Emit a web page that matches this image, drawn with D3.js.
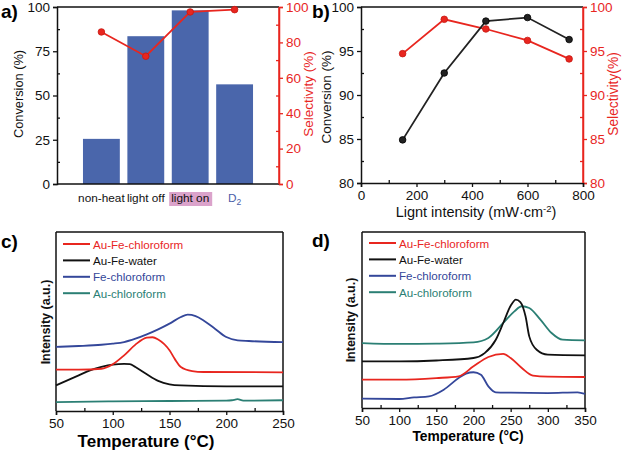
<!DOCTYPE html>
<html><head><meta charset="utf-8">
<script src="https://cdn.jsdelivr.net/npm/d3@7"></script>
<style>
body{margin:0;background:#fff;}
svg{font-family:"Liberation Sans",Arial,sans-serif;}
</style></head>
<body><svg id="c" width="623" height="450"></svg>
<script>
// ---------- DATA ----------
// panel a
const aCategories = ["non-heat","light off","light on","D2"];
const aCatPos = [1,2,3,4];
const aConversion = [25.5, 83.5, 98.1, 56.3];
const aSelectivity = [85.9, 72.2, 97.2, 98.5];
const aLeftTicks = [0,25,50,75,100];
const aRightTicks = [0,20,40,60,80,100];
// panel b
const bIntensity = [150,300,450,600,750];
const bConversion = [84.9, 92.5, 98.4, 98.8, 96.3];
const bSelectivity = [94.7, 98.6, 97.5, 96.2, 94.1];
const bXTicks = [0,200,400,600,800];
const bYTicks = [80,85,90,95,100];
// panel c (arbitrary intensity units)
const cTempRed   = [50,70,90,100,110,120,130,135,140,150,155,160,170,180,250];
const cAuFeChl   = [23.1,23.1,23.6,26.1,31.1,37.1,41.0,41.2,39.9,33.9,28.7,24.6,22.3,21.8,21.6];
const cTempBlack = [50,60,70,80,90,100,110,115,120,130,140,150,160,200,250];
const cAuFeWater = [14.3,17.1,19.9,22.7,24.6,25.9,26.3,26.2,24.6,20.5,16.8,14.9,14.3,13.8,13.8];
const cTempBlue  = [50,70,90,100,110,120,130,140,150,160,166,173,180,190,200,210,220,250];
const cFeChl     = [35.8,36.3,37.0,37.6,38.5,40.4,42.8,45.6,48.8,52.5,53.8,53.0,50.6,46.0,41.3,39.5,39.1,38.5];
const cTempTeal  = [50,100,150,200,205,210,215,250];
const cAuChl     = [5.0,5.4,5.6,5.8,6.0,6.6,5.8,6.0];
const cXTicks = [50,100,150,200,250];
// panel d
const dTempTeal  = [50,100,150,200,220,240,255,265,275,290,305,320,350];
const dAuChl     = [36.9,36.4,36.6,37.3,39.8,48.3,54.9,57.8,56.8,50.2,42.6,38.8,38.4];
const dTempBlack = [50,100,150,200,215,230,240,250,257,263,270,275,285,300,350];
const dAuFeWater = [26.5,26.5,27.0,28.4,31.2,38.8,48.3,58.1,61.6,60.2,52.1,40.7,33.1,30.3,29.9];
const dTempRed   = [50,100,150,180,200,220,240,250,265,280,300,350];
const dAuFeChl   = [16.1,16.1,17.0,18.0,23.7,29.0,30.7,28.4,22.7,18.4,17.8,17.6];
const dTempBlue  = [50,100,120,140,160,180,190,200,210,220,230,250,300,340,350];
const dFeChl     = [5.3,5.1,6.0,6.6,10.4,17.0,19.5,20.3,18.9,12.3,8.9,8.7,8.5,8.9,8.0];
const dXTicks = [50,100,150,200,250,300,350];
const legendNames = ["Au-Fe-chloroform","Au-Fe-water","Fe-chloroform","Au-chloroform"];

// ---------- STYLE ----------
const RED="#e8261f", BLACK="#111", BLUE="#34479a", TEAL="#2b7f74", BAR="#4a66ab";
const svg = d3.select("#c");
const FS=13.5;

function minorBetween(ticks){const m=[];for(let i=0;i<ticks.length-1;i++)m.push((ticks[i]+ticks[i+1])/2);return m;}

function styleAxis(g,color){
  g.selectAll("path").attr("stroke",color).attr("stroke-width",1.5);
  g.selectAll("line").attr("stroke",color).attr("stroke-width",1.3);
  g.selectAll("text").attr("fill",color).style("font-size",FS+"px").style("font-family","'Liberation Sans',Arial,sans-serif");
}
function axisPair(axisFn, scale, ticks, transform, color, labels){
  const g=svg.append("g").attr("transform",transform);
  g.call(axisFn(scale).tickValues(ticks).tickSizeOuter(0).tickSize(4).tickPadding(3)
        .tickFormat(labels===false?"":d3.format("d")));
  styleAxis(g,color);
  const g2=svg.append("g").attr("transform",transform);
  g2.call(axisFn(scale).tickValues(minorBetween(ticks)).tickSizeOuter(0).tickSize(-3).tickFormat(""));
  styleAxis(g2,color);
  g2.select("path").remove();
  return g;
}
function hline(x1,x2,y,c){svg.append("line").attr("x1",x1).attr("x2",x2).attr("y1",y).attr("y2",y).attr("stroke",c).attr("stroke-width",1.5);}
function vline(x,y1,y2,c){svg.append("line").attr("x1",x).attr("x2",x).attr("y1",y1).attr("y2",y2).attr("stroke",c).attr("stroke-width",1.5);}
function vlabel(txt,x,y,color,size,weight){
  return svg.append("text").attr("transform",`translate(${x},${y}) rotate(-90)`).attr("text-anchor","middle")
    .attr("fill",color).style("font-size",size+"px").style("font-weight",weight||"normal").text(txt);
}
function plabel(txt,x,y){svg.append("text").attr("x",x).attr("y",y).style("font-size","19px").style("font-weight","bold").text(txt);}

// ---------- PANEL A ----------
{
  const x=d3.scaleLinear().domain([0,5]).range([57,279]);
  const y=d3.scaleLinear().domain([0,100]).range([184,7]);
  const bw=x(0.83)-x(0);
  svg.append("g").selectAll("rect").data(aConversion).join("rect")
    .attr("x",(d,i)=>x(aCatPos[i])-bw/2).attr("width",bw)
    .attr("y",d=>y(d)).attr("height",d=>y(0)-y(d)).attr("fill",BAR);
  axisPair(d3.axisLeft,y,aLeftTicks,`translate(57,0)`,BLACK);
  axisPair(d3.axisRight,y,aRightTicks,`translate(279,0)`,RED);
  hline(57,279,184,BLACK); hline(57,279,7,BLACK); vline(279,7,184,RED);
  const line=d3.line().x((d,i)=>x(aCatPos[i])).y(d=>y(d));
  svg.append("path").datum(aSelectivity).attr("d",line).attr("fill","none").attr("stroke",RED).attr("stroke-width",1.8);
  svg.append("g").selectAll("circle").data(aSelectivity).join("circle")
    .attr("cx",(d,i)=>x(aCatPos[i])).attr("cy",d=>y(d)).attr("r",3.3).attr("fill",RED).attr("stroke","#c81812").attr("stroke-width",0.8);
  const lab=svg.append("g");
  lab.append("rect").attr("x",x(3)-21).attr("y",192).attr("width",43).attr("height",14).attr("fill","#dba3cb");
  aCategories.forEach((c,i)=>{
    const t=lab.append("text").attr("x",x(aCatPos[i])).attr("y",202).attr("text-anchor","middle")
      .style("font-size","11.8px").attr("fill",i===3?"#4a5ea8":"#111");
    if(c==="D2"){t.text("D");t.append("tspan").attr("dy",3).style("font-size","8.5px").text("2");}
    else t.text(c);
  });
  vlabel("Conversion (%)",23,94,BLACK,12.8);
  vlabel("Selectivity (%)",313,94,RED,13.5);
  plabel("a)",1,18);
}
// ---------- PANEL B ----------
{
  const x=d3.scaleLinear().domain([0,800]).range([361,583]);
  const y=d3.scaleLinear().domain([80,100]).range([183,7]);
  axisPair(d3.axisLeft,y,bYTicks,`translate(361,0)`,BLACK);
  axisPair(d3.axisRight,y,bYTicks,`translate(583,0)`,RED);
  axisPair(d3.axisBottom,x,bXTicks,`translate(0,183)`,BLACK);
  hline(361,583,7,BLACK); vline(583,7,183,RED);
  const mk=(vals,col,stroke)=>{
    const line=d3.line().x((d,i)=>x(bIntensity[i])).y(d=>y(d));
    svg.append("path").datum(vals).attr("d",line).attr("fill","none").attr("stroke",col).attr("stroke-width",1.8);
    svg.append("g").selectAll("circle").data(vals).join("circle")
      .attr("cx",(d,i)=>x(bIntensity[i])).attr("cy",d=>y(d)).attr("r",3.3).attr("fill",col).attr("stroke",stroke).attr("stroke-width",0.8);
  };
  mk(bSelectivity,RED,"#c81812");
  mk(bConversion,"#222","#000");
  vlabel("Conversion (%)",331,97,BLACK,13.5);
  vlabel("Selectivity(%)",618,94,RED,13.8);
  const t=svg.append("text").attr("x",476).attr("y",217).attr("text-anchor","middle").style("font-size","14.5px").attr("fill","#111");
  t.append("tspan").text("Lignt intensity (mW·cm");
  t.append("tspan").attr("dy",-5).style("font-size","9.5px").text("-2");
  t.append("tspan").attr("dy",5).text(")");
  plabel("b)",312,18);
}
// ---------- PANELS C/D ----------
function tpdPanel(x0,x1,yTop,yBot,dom,ticks,series,legX,legY,labelXY,tempXY,tempFS,intXY,pl){
  const x=d3.scaleLinear().domain(dom).range([x0,x1]);
  const y=d3.scaleLinear().domain([0,100]).range([yBot,yTop]);
  axisPair(d3.axisBottom,x,ticks,`translate(0,${yBot})`,BLACK);
  vline(x0,yTop,yBot,BLACK); vline(x1,yTop,yBot,BLACK); hline(x0,x1,yTop,BLACK);
  const line=d3.line().curve(d3.curveMonotoneX);
  series.forEach(s=>{
    svg.append("path").datum(s.t.map((t,i)=>[x(t),y(s.v[i])])).attr("d",line)
      .attr("fill","none").attr("stroke",s.c).attr("stroke-width",1.8);
  });
  legendNames.forEach((n,i)=>{
    const col=[RED,BLACK,BLUE,TEAL][i];
    const yy=legY+i*16.4;
    svg.append("line").attr("x1",legX).attr("x2",legX+27).attr("y1",yy).attr("y2",yy).attr("stroke",col).attr("stroke-width",2);
    svg.append("text").attr("x",legX+30).attr("y",yy+4.5).style("font-size","11.6px").attr("fill",col).text(n);
  });
  svg.append("text").attr("x",tempXY[0]).attr("y",tempXY[1]).attr("text-anchor","middle")
    .style("font-size",tempFS+"px").style("font-weight","bold").text("Temperature (°C)");
  vlabel("Intensity (a.u.)",intXY[0],intXY[1],BLACK,12.5,"bold");
  plabel(pl,labelXY[0],labelXY[1]);
}
tpdPanel(56,283,232,411,[50,250],cXTicks,[
  {t:cTempTeal,v:cAuChl,c:TEAL},
  {t:cTempBlack,v:cAuFeWater,c:BLACK},
  {t:cTempRed,v:cAuFeChl,c:RED},
  {t:cTempBlue,v:cFeChl,c:BLUE}],
  63,244,[1,248],[146,447],17,[50,322],"c)");
tpdPanel(362,585,232,408,[50,350],dXTicks,[
  {t:dTempBlue,v:dFeChl,c:BLUE},
  {t:dTempRed,v:dAuFeChl,c:RED},
  {t:dTempTeal,v:dAuChl,c:TEAL},
  {t:dTempBlack,v:dAuFeWater,c:BLACK}],
  369,243,[312,247],[468,441],13.8,[355,320],"d)");
</script></body></html>
